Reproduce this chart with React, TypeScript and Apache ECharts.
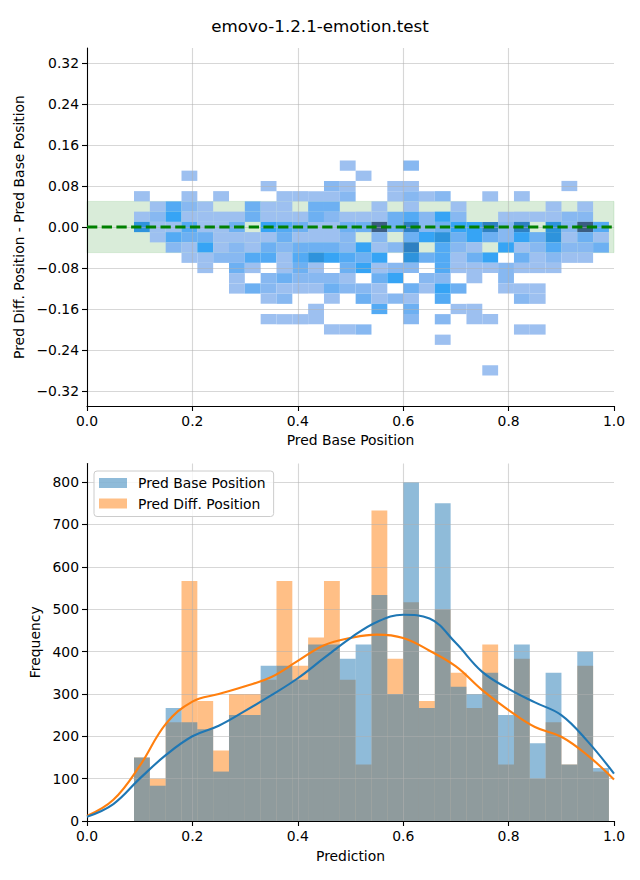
import React, { useEffect, useRef } from 'react';
import * as echarts from 'echarts';

const FONT = 'DejaVu Sans';
const TITLE = 'emovo-1.2.1-emotion.test';

// shared histogram bins on the prediction scale
const BIN_START = 0.0892;
const BIN_WIDTH = 0.03004;

// ---------- top panel: 2D histogram ----------
const diffBinHalf = 0.01;
const diffBinCenters = [0.12, 0.10, 0.08, 0.06, 0.04, 0.02, 0, -0.02, -0.04, -0.06, -0.08, -0.10, -0.12, -0.14, -0.16, -0.18, -0.20, -0.22, -0.24, -0.26, -0.28];
const cellLevels = [
  [0,0,0,0,0,0,0,0,0,0,0,0,0,1,0,0,0,2,0,0,0,0,0,0,0,0,0,0,0,0],
  [0,0,0,1,0,0,0,0,0,0,0,0,0,0,1,0,0,0,0,0,0,0,0,0,0,0,0,0,0,0],
  [0,0,0,0,0,0,0,0,1,0,0,0,2,1,0,0,1,1,0,0,0,0,0,0,0,0,0,1,0,0],
  [1,0,0,1,0,1,0,0,0,1,1,1,1,2,0,0,1,2,1,2,0,0,1,0,1,0,0,0,0,0],
  [0,1,4,2,1,0,0,3,1,1,0,3,3,0,0,1,0,1,0,0,1,0,0,0,0,0,1,0,1,0],
  [1,2,5,1,1,1,1,3,1,1,1,3,2,1,1,1,3,4,2,5,2,0,0,1,1,1,1,2,2,0],
  [6,1,1,4,1,1,3,0,5,4,3,1,1,3,3,8,3,7,2,3,5,5,7,2,7,0,6,2,8,4],
  [0,1,4,3,3,1,1,1,1,3,1,1,1,2,0,2,0,3,5,6,3,5,3,2,5,3,6,1,3,1],
  [0,0,2,1,5,1,2,1,3,2,3,3,3,2,5,1,2,7,0,4,2,1,0,5,1,2,4,2,2,3],
  [0,0,0,1,1,2,2,4,4,1,4,6,5,4,3,5,0,6,3,4,1,3,5,0,3,1,2,1,1,0],
  [0,0,0,0,1,0,3,1,0,1,3,1,0,3,5,1,2,2,0,4,1,1,1,2,1,1,1,0,0,0],
  [0,0,0,0,0,0,1,0,2,3,2,2,2,1,0,3,5,0,2,2,0,1,0,2,0,0,0,0,0,0],
  [0,0,0,0,0,0,1,3,2,1,1,1,3,2,2,1,0,3,1,5,3,0,0,1,1,1,0,0,0,0],
  [0,0,0,0,0,0,0,0,1,2,0,0,1,0,3,1,2,1,0,4,0,0,0,0,2,1,0,0,0,0],
  [0,0,0,0,0,0,0,0,0,0,0,1,0,0,0,4,0,3,0,0,1,1,0,0,0,0,0,0,0,0],
  [0,0,0,0,0,0,0,0,1,1,1,1,0,0,0,0,0,2,0,2,0,1,1,0,0,0,0,0,0,0],
  [0,0,0,0,0,0,0,0,0,0,0,0,1,1,2,0,0,0,0,0,0,0,0,0,1,1,0,0,0,0],
  [0,0,0,0,0,0,0,0,0,0,0,0,0,0,0,0,0,0,0,1,0,0,0,0,0,0,0,0,0,0],
  [0,0,0,0,0,0,0,0,0,0,0,0,0,0,0,0,0,0,0,0,0,0,0,0,0,0,0,0,0,0],
  [0,0,0,0,0,0,0,0,0,0,0,0,0,0,0,0,0,0,0,0,0,0,0,0,0,0,0,0,0,0],
  [0,0,0,0,0,0,0,0,0,0,0,0,0,0,0,0,0,0,0,0,0,0,1,0,0,0,0,0,0,0],
];
const levelColors = ['#ffffff', '#9dc0f0', '#87b8f1', '#6db0f2', '#53aaf4', '#36a4f5', '#2e93dc', '#2e80c2', '#3b5d82'];
const tolBand = [-0.05, 0.05];
const refLine = [0];
const diffTicks = [-0.32, -0.24, -0.16, -0.08, 0, 0.08, 0.16, 0.24, 0.32];

// ---------- bottom panel: histograms + KDE ----------
const freqTicks = [0, 100, 200, 300, 400, 500, 600, 700, 800];
const baseCounts = [150, 83.3, 266.7, 233.3, 216.7, 116.7, 250, 250, 366.7, 366.7, 333.3, 416.7, 416.7, 383.3, 416.7, 533.3, 300, 800, 266.7, 750, 316.7, 300, 350, 250, 416.7, 183.3, 350, 133.3, 400, 125];
const diffCounts = [150, 100, 233.3, 566.7, 283.3, 166.7, 300, 300, 333.3, 566.7, 366.7, 433.3, 566.7, 333.3, 133.3, 733.3, 383.3, 516.7, 283.3, 500, 350, 266.7, 416.7, 133.3, 383.3, 100, 233.3, 133.3, 366.7, 116.7];
const kdeX = [0, 0.05, 0.1, 0.15, 0.2, 0.25, 0.3, 0.35, 0.4, 0.45, 0.5, 0.55, 0.6, 0.65, 0.7, 0.75, 0.8, 0.85, 0.9, 0.95, 1.0];
const kdeBase = [10, 40, 100, 156, 200, 225, 260, 297, 337, 385, 432, 470, 487, 478, 420, 352, 312, 280, 250, 188, 112];
const kdeDiff = [12, 50, 130, 230, 282, 300, 318, 340, 378, 415, 432, 440, 432, 402, 365, 309, 262, 222, 199, 155, 98];

const BASE_NAME = 'Pred Base Position';
const DIFF_NAME = 'Pred Diff. Position';

const fmtMinus = (v: number, d: number) => {
  if (Math.abs(v) < 1e-9) return (0).toFixed(d);
  return (v < 0 ? '\u2212' : '') + Math.abs(v).toFixed(d);
};

function buildOption() {
  const cells: number[][] = [];
  cellLevels.forEach((row, r) => {
    row.forEach((lv, c) => {
      if (lv > 0) {
        cells.push([
          BIN_START + c * BIN_WIDTH,
          BIN_START + (c + 1) * BIN_WIDTH,
          diffBinCenters[r] - diffBinHalf,
          diffBinCenters[r] + diffBinHalf,
          lv,
        ]);
      }
    });
  });
  const histData = (counts: number[]) =>
    counts.map((v, i) => [BIN_START + i * BIN_WIDTH, BIN_START + (i + 1) * BIN_WIDTH, v]);

  const rectItem = (params: any, api: any) => {
    const a = api.coord([api.value(0), api.value(2)]);
    const b = api.coord([api.value(1), 0]);
    return {
      type: 'rect',
      shape: { x: a[0], y: a[1], width: b[0] - a[0], height: b[1] - a[1] },
      style: { fill: api.visual('color') },
    };
  };

  const axisCommon: any = {
    type: 'value',
    nameLocation: 'middle',
    z: 3,
    axisLine: { show: true, onZero: false, lineStyle: { color: '#000', width: 1.1 } },
    axisTick: { show: true, length: 5, lineStyle: { color: '#000', width: 1.1 } },
    axisLabel: { color: '#000', fontSize: 13.9, fontFamily: FONT, margin: 8 },
    splitLine: { show: true, lineStyle: { color: 'rgba(176,176,176,0.5)', width: 1.1 } },
    nameTextStyle: { color: '#000', fontSize: 13.9, fontFamily: FONT },
  };

  return {
    animation: false,
    textStyle: { fontFamily: FONT },
    title: {
      text: TITLE,
      left: 'center',
      top: 17,
      padding: 0,
      textStyle: { fontSize: 16.7, fontWeight: 'normal', fontFamily: FONT, color: '#000' },
    },
    legend: {
      data: [BASE_NAME, DIFF_NAME],
      orient: 'vertical',
      left: 94,
      top: 471,
      icon: 'rect',
      itemWidth: 28,
      itemHeight: 10,
      itemGap: 6.5,
      padding: [5, 8, 6, 5],
      borderColor: '#cccccc',
      borderWidth: 1,
      borderRadius: 3,
      backgroundColor: 'rgba(255,255,255,0.8)',
      selectedMode: false,
      z: 10,
      textStyle: { fontSize: 13.9, fontFamily: FONT, color: '#000', lineHeight: 14, padding: [0, 0, 0, 6] },
    },
    grid: [
      { left: 87, top: 48, width: 527, height: 358, containLabel: false, outerBoundsMode: 'none' },
      { left: 87, top: 463.5, width: 527, height: 357.5, containLabel: false, outerBoundsMode: 'none' },
    ],
    xAxis: [
      {
        ...axisCommon,
        gridIndex: 0,
        min: 0,
        max: 1,
        interval: 0.2,
        name: 'Pred Base Position',
        nameGap: 27,
        axisLabel: { ...axisCommon.axisLabel, formatter: (v: number) => v.toFixed(1) },
        splitLine: { ...axisCommon.splitLine, showMinLine: false, showMaxLine: false },
      },
      {
        ...axisCommon,
        gridIndex: 1,
        min: 0,
        max: 1,
        interval: 0.2,
        name: 'Prediction',
        nameGap: 28,
        axisLabel: { ...axisCommon.axisLabel, formatter: (v: number) => v.toFixed(1) },
        splitLine: { ...axisCommon.splitLine, showMinLine: false, showMaxLine: false },
      },
    ],
    yAxis: [
      {
        ...axisCommon,
        gridIndex: 0,
        min: -0.3493,
        max: 0.3493,
        name: 'Pred Diff. Position - Pred Base Position',
        nameGap: 57,
        axisTick: { ...axisCommon.axisTick, customValues: diffTicks },
        axisLabel: { ...axisCommon.axisLabel, customValues: diffTicks, formatter: (v: number) => fmtMinus(v, 2) },
      },
      {
        ...axisCommon,
        gridIndex: 1,
        min: 0,
        max: 844,
        name: 'Frequency',
        nameGap: 41,
        axisTick: { ...axisCommon.axisTick, customValues: freqTicks },
        axisLabel: { ...axisCommon.axisLabel, customValues: freqTicks, formatter: (v: number) => String(Math.round(v)) },
      },
    ],
    series: [
      {
        type: 'custom',
        name: 'band',
        xAxisIndex: 0,
        yAxisIndex: 0,
        z: 1,
        silent: true,
        data: [tolBand],
        renderItem: (params: any, api: any) => {
          const cs = params.coordSys;
          const yTop = api.coord([0, api.value(1)])[1];
          const yBot = api.coord([0, api.value(0)])[1];
          return {
            type: 'rect',
            shape: { x: cs.x, y: yTop, width: cs.width, height: yBot - yTop },
            style: { fill: 'rgba(0,128,0,0.15)', stroke: 'rgba(0,128,0,0.12)', lineWidth: 1 },
          };
        },
      },
      {
        type: 'custom',
        name: 'cells',
        xAxisIndex: 0,
        yAxisIndex: 0,
        z: 2,
        silent: true,
        encode: { x: [0, 1], y: [2, 3] },
        data: cells,
        renderItem: (params: any, api: any) => {
          const a = api.coord([api.value(0), api.value(3)]);
          const b = api.coord([api.value(1), api.value(2)]);
          return {
            type: 'rect',
            shape: { x: a[0], y: a[1], width: b[0] - a[0], height: b[1] - a[1] },
            style: { fill: levelColors[api.value(4)] },
          };
        },
      },
      {
        type: 'custom',
        name: 'ref',
        xAxisIndex: 0,
        yAxisIndex: 0,
        z: 4,
        silent: true,
        data: [refLine],
        renderItem: (params: any, api: any) => {
          const cs = params.coordSys;
          const y = api.coord([0, api.value(0)])[1];
          return {
            type: 'line',
            shape: { x1: cs.x, y1: y, x2: cs.x + cs.width, y2: y },
            style: { stroke: '#008000', lineWidth: 2.8, lineDash: [10.3, 4.4] },
          };
        },
      },
      {
        type: 'custom',
        name: DIFF_NAME,
        xAxisIndex: 1,
        yAxisIndex: 1,
        z: 2,
        silent: true,
        itemStyle: { color: 'rgba(255,127,14,0.5)' },
        encode: { x: [0, 1], y: 2 },
        data: histData(diffCounts),
        renderItem: rectItem,
      },
      {
        type: 'custom',
        name: BASE_NAME,
        xAxisIndex: 1,
        yAxisIndex: 1,
        z: 2,
        silent: true,
        itemStyle: { color: 'rgba(31,119,180,0.5)' },
        encode: { x: [0, 1], y: 2 },
        data: histData(baseCounts),
        renderItem: rectItem,
      },
      {
        type: 'line',
        name: 'kde-diff',
        xAxisIndex: 1,
        yAxisIndex: 1,
        z: 5,
        silent: true,
        smooth: 0.4,
        showSymbol: false,
        symbol: 'none',
        color: '#ff7f0e',
        lineStyle: { color: '#ff7f0e', width: 2.1 },
        data: kdeX.map((x, i) => [x, kdeDiff[i]]),
      },
      {
        type: 'line',
        name: 'kde-base',
        xAxisIndex: 1,
        yAxisIndex: 1,
        z: 5,
        silent: true,
        smooth: 0.4,
        showSymbol: false,
        symbol: 'none',
        color: '#1f77b4',
        lineStyle: { color: '#1f77b4', width: 2.1 },
        data: kdeX.map((x, i) => [x, kdeBase[i]]),
      },
    ],
  };
}

export default function App() {
  const ref = useRef<HTMLDivElement>(null);
  useEffect(() => {
    if (!ref.current) return;
    const chart = echarts.init(ref.current, undefined, { renderer: 'svg' });
    chart.setOption(buildOption() as any);
    return () => chart.dispose();
  }, []);
  return (
    <div
      ref={ref}
      style={{ position: 'absolute', left: 0, top: 0, width: 640, height: 880, background: '#fff' }}
    />
  );
}
